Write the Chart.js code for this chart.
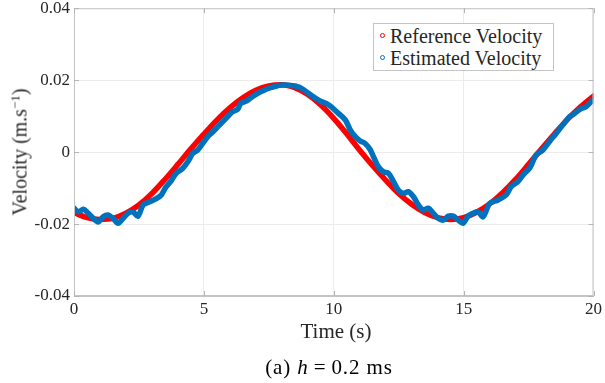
<!DOCTYPE html>
<html>
<head>
<meta charset="utf-8">
<script src="https://cdn.jsdelivr.net/npm/chart.js@4.4.1/dist/chart.umd.min.js"></script>
<style>
  html, body { margin: 0; padding: 0; background: #fff; }
  #wrap { position: relative; width: 605px; height: 383px; overflow: hidden; font-family: "Liberation Serif", "DejaVu Serif", serif; color: #262626; }
  #c { position: absolute; left: 0; top: 0; }
  .lbl { position: absolute; white-space: nowrap; line-height: 1; }
  #xt { left: 336px; top: 321px; font-size: 21px; transform: translateX(-50%); }
  #yt { left: 19px; top: 152px; font-size: 20px; transform: translate(-50%, -50%) rotate(-90deg); }
  #cap { left: 329px; top: 357px; font-size: 21px; letter-spacing: 0.9px; transform: translateX(-50%); color: #000; }
  #cap .eq { margin: 0 5px; }
  #legend { position: absolute; left: 373px; top: 23px; width: 179px; height: 46px; border: 1px solid #c4c4c4; background: #fff; }
  .row { position: absolute; left: 0; height: 22px; font-size: 20px; line-height: 22px; white-space: nowrap; }
  .mk { position: absolute; left: 6px; top: 8px; width: 3px; height: 3px; border-radius: 50%; border: 1.5px solid; }
  .tx { position: absolute; left: 16px; top: 0; }
</style>
</head>
<body>
<div id="wrap">
  <canvas id="c" width="605" height="383"></canvas>
  <div class="lbl" id="xt">Time (s)</div>
  <div class="lbl" id="yt">Velocity (m.s<sup style="font-size:13px;vertical-align:7px">−1</sup>)</div>
  <div class="lbl" id="cap">(a) <i>h</i><span class="eq">=</span>0.2 ms</div>
  <div id="legend">
    <div class="row" style="top:1px"><span class="mk" style="border-color:#ff0000"></span><span class="tx">Reference Velocity</span></div>
    <div class="row" style="top:23px"><span class="mk" style="border-color:#0072bd"></span><span class="tx">Estimated Velocity</span></div>
  </div>
</div>
<script>
// ---- data ----
const refTime = [0,0.5,1,1.5,2,2.5,3,3.5,4,4.5,5,5.5,6,6.5,7,7.5,8,8.5,9,9.5,10,10.5,11,11.5,12,12.5,13,13.5,14,14.5,15,15.5,16,16.5,17,17.5,18,18.5,19,19.5,20];
const refVel = [-0.0168,-0.0182,-0.0187,-0.0184,-0.0170,-0.0147,-0.0115,-0.0076,-0.0034,0.0009,0.0050,0.0089,0.0123,0.0151,0.0172,0.0184,0.0187,0.0179,0.0160,0.0131,0.0094,0.0051,0.0005,-0.0038,-0.0078,-0.0115,-0.0145,-0.0168,-0.0182,-0.0187,-0.0182,-0.0167,-0.0144,-0.0113,-0.0076,-0.0034,0.0009,0.0051,0.0091,0.0126,0.0156];

const estTime = [0,0.17,0.36,0.55,0.74,0.93,1.12,1.31,1.5,1.7,1.89,2.08,2.27,2.46,2.66,2.91,3.17,3.36,3.55,3.74,3.93,4.19,4.38,4.57,4.76,4.95,5.15,5.34,5.53,5.72,5.91,6.1,6.3,6.42,6.68,6.87,7.06,7.32,7.51,7.77,7.89,8.28,8.66,9.04,9.43,9.81,10.19,10.45,10.64,10.83,11.02,11.21,11.41,11.53,11.72,11.92,12.11,12.3,12.49,12.68,12.87,13.07,13.26,13.45,13.64,13.83,14.02,14.21,14.41,14.6,14.79,14.98,15.17,15.36,15.56,15.75,16,16.32,16.64,16.83,17.09,17.34,17.54,17.79,18.05,18.3,18.56,18.81,19.07,19.26,19.52,19.71,19.96,20];
const estVel = [-0.0156,-0.0166,-0.0159,-0.0170,-0.0184,-0.0194,-0.0180,-0.0175,-0.0184,-0.0198,-0.0184,-0.0170,-0.0166,-0.0178,-0.0147,-0.0138,-0.0129,-0.0119,-0.0096,-0.0080,-0.0059,-0.0045,-0.0027,-0.0004,0.0006,0.0024,0.0043,0.0056,0.0070,0.0084,0.0098,0.0112,0.0119,0.0135,0.0144,0.0154,0.0163,0.0172,0.0178,0.0183,0.0186,0.0186,0.0181,0.0163,0.0144,0.0131,0.0107,0.0089,0.0061,0.0043,0.0031,0.0024,0.0006,-0.0013,-0.0041,-0.0055,-0.0059,-0.0082,-0.0106,-0.0115,-0.0110,-0.0124,-0.0147,-0.0161,-0.0156,-0.0170,-0.0184,-0.0189,-0.0178,-0.0178,-0.0189,-0.0198,-0.0178,-0.0170,-0.0166,-0.0180,-0.0143,-0.0133,-0.0119,-0.0096,-0.0082,-0.0059,-0.0045,-0.0008,0.0006,0.0029,0.0052,0.0075,0.0098,0.0107,0.0121,0.0126,0.0144,0.0145];

const xTicks = [0,5,10,15,20];
const xTickLabels = ['0','5','10','15','20'];
const yTicks = [-0.04,-0.02,0,0.02,0.04];
const yTickLabels = ['-0.04','-0.02','0','0.02','0.04'];

const refPts = refTime.map((t,i)=>({x:t,y:refVel[i]}));
const estPts = estTime.map((t,i)=>({x:t,y:estVel[i]}));

// box around the plot area with short inward tick marks on every side
const boxPlugin = {
  id: 'box',
  afterDraw(chart) {
    const a = chart.chartArea, ctx = chart.ctx;
    const xs = chart.scales.x, ys = chart.scales.y;
    ctx.save();
    ctx.strokeStyle = '#c4c4c4';
    ctx.lineWidth = 1;
    ctx.strokeRect(a.left + 0.5, a.top + 0.5, a.right - a.left - 1, a.bottom - a.top - 1);
    ctx.strokeStyle = '#b4b4b4';
    ctx.beginPath();
    xTicks.forEach(v => {
      const px = Math.round(xs.getPixelForValue(v)) + 0.5;
      ctx.moveTo(px, a.bottom); ctx.lineTo(px, a.bottom - 5);
      ctx.moveTo(px, a.top); ctx.lineTo(px, a.top + 5);
    });
    yTicks.forEach(v => {
      const py = Math.round(ys.getPixelForValue(v)) + 0.5;
      ctx.moveTo(a.left, py); ctx.lineTo(a.left + 5, py);
      ctx.moveTo(a.right, py); ctx.lineTo(a.right - 5, py);
    });
    ctx.stroke();
    ctx.restore();
  }
};

new Chart(document.getElementById('c'), {
  type: 'line',
  data: {
    datasets: [
      { label: 'Estimated Velocity', data: estPts, borderColor: '#0072bd', borderWidth: 5.5, pointRadius: 0, tension: 0.3, order: 0, borderCapStyle: 'round', borderJoinStyle: 'round' },
      { label: 'Reference Velocity', data: refPts, borderColor: '#ff0000', borderWidth: 5.5, pointRadius: 0, cubicInterpolationMode: 'monotone', order: 1, borderCapStyle: 'round' }
    ]
  },
  options: {
    responsive: false,
    devicePixelRatio: 1,
    animation: false,
    layout: { padding: { top: 8, right: 9, left: 0, bottom: 0 } },
    plugins: { legend: { display: false }, tooltip: { enabled: false } },
    scales: {
      x: {
        type: 'linear', min: 0, max: 20,
        afterBuildTicks: s => { s.ticks = xTicks.map(v => ({ value: v })); },
        afterFit: s => { s.height = 87; },
        ticks: { callback: (v) => xTickLabels[xTicks.indexOf(v)], color: '#262626', font: { family: 'Liberation Serif', size: 17 }, padding: 3, maxRotation: 0 },
        grid: { color: '#ececec', drawTicks: false },
        border: { color: '#c4c4c4' }
      },
      y: {
        type: 'linear', min: -0.04, max: 0.04,
        afterBuildTicks: s => { s.ticks = yTicks.map(v => ({ value: v })); },
        afterFit: s => { s.width = 74; },
        ticks: { callback: (v) => yTickLabels[yTicks.findIndex(t => Math.abs(t - v) < 1e-9)], color: '#262626', font: { family: 'Liberation Serif', size: 17, lineHeight: 0.5 }, padding: 4 },
        grid: { color: '#ececec', drawTicks: false },
        border: { color: '#c4c4c4' }
      }
    }
  },
  plugins: [boxPlugin]
});
</script>
</body>
</html>
